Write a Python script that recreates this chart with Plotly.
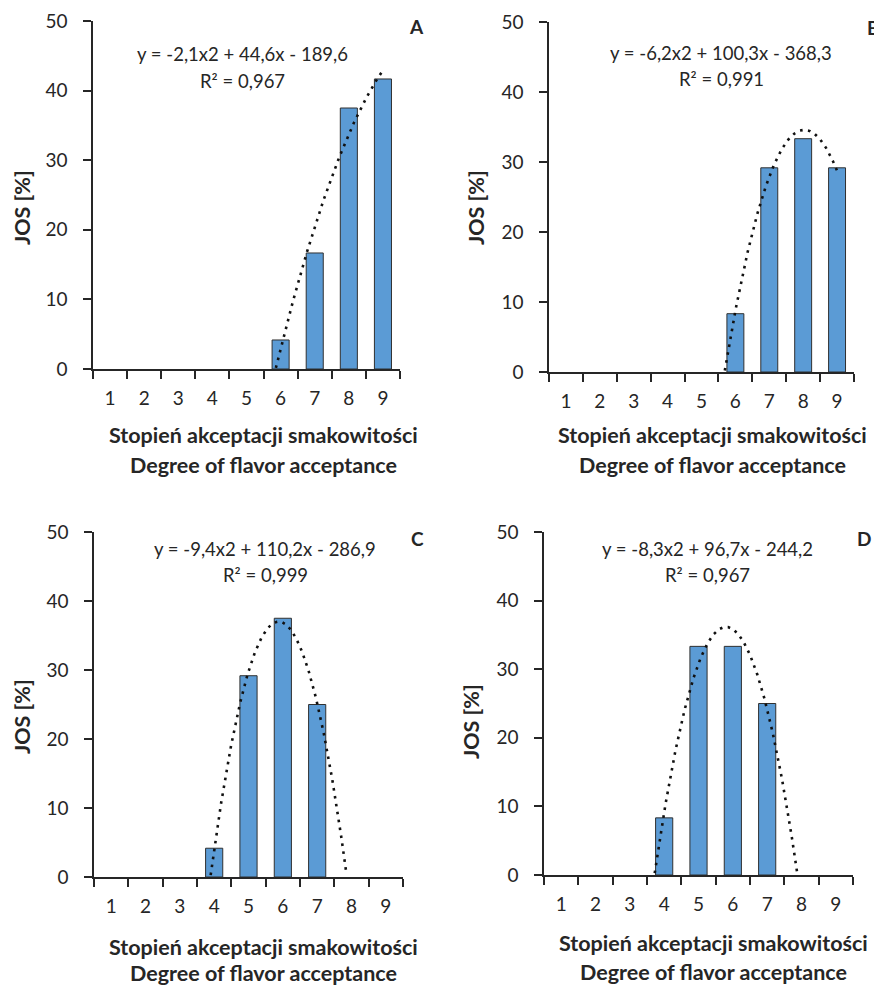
import numpy as np
import plotly.graph_objects as go

# ---------------- data ----------------
categories = [1, 2, 3, 4, 5, 6, 7, 8, 9]
jos_a = [0, 0, 0, 0, 0, 4.17, 16.67, 37.5, 41.67]
jos_b = [0, 0, 0, 0, 0, 8.33, 29.17, 33.33, 29.17]
jos_c = [0, 0, 0, 4.17, 29.17, 37.5, 25.0, 0, 0]
jos_d = [0, 0, 0, 8.33, 33.33, 33.33, 25.0, 0, 0]
panel_labels = ["A", "B", "C", "D"]
equations = ["y = -2,1x2 + 44,6x - 189,6",
             "y = -6,2x2 + 100,3x - 368,3",
             "y = -9,4x2 + 110,2x - 286,9",
             "y = -8,3x2 + 96,7x - 244,2"]
r2_labels = ["R² = 0,967", "R² = 0,991", "R² = 0,999", "R² = 0,967"]
y_ticks = [0, 10, 20, 30, 40, 50]
x_title_pl = "Stopień akceptacji smakowitości"
x_title_en = "Degree of flavor acceptance"
y_title = "JOS [%]"

series = [jos_a, jos_b, jos_c, jos_d]

# ---------------- layout helpers ----------------
W, H = 882, 985
OFF = 8  # page body margin of the browser
FONT = "Lato"
AX = "#262626"
TXT = "#262626"
BAR = "#5B9BD5"


def px(x):
    return (x - OFF) / W


def py(y):
    return 1 - (y - OFF) / H


# pixel geometry of each panel (page pixels)
panels = [
    dict(box=(93, 400, 21, 369), eq=(242, 54, 81), letter=(416, 27),
         xt=(263, 435, 465), yt=(22, 208)),
    dict(box=(549, 854, 22, 372), eq=(721, 53, 79), letter=(873, 28),
         xt=(712, 435, 465), yt=(476, 208)),
    dict(box=(94, 403, 532, 877), eq=(265, 549, 575), letter=(417, 538),
         xt=(263, 947, 973), yt=(22, 717)),
    dict(box=(544, 853, 532, 875), eq=(707, 549, 575), letter=(864, 538),
         xt=(713, 943, 972), yt=(471, 722)),
]

fig = go.Figure()
annotations = []

for i, (vals, p) in enumerate(zip(series, panels)):
    n = i + 1
    xa = "x" if n == 1 else f"x{n}"
    ya = "y" if n == 1 else f"y{n}"

    fig.add_trace(go.Bar(
        x=categories, y=[v if v > 0 else None for v in vals],
        xaxis=xa, yaxis=ya, width=0.5,
        marker=dict(color=BAR, line=dict(color="#303030", width=1)),
        showlegend=False, hoverinfo="skip"))

    # polynomial (2nd order) trendline fitted to the rated categories
    xs_fit = np.array([c for c, v in zip(categories, vals) if v > 0], float)
    ys_fit = np.array([v for v in vals if v > 0], float)
    coef = np.polyfit(xs_fit, ys_fit, 2)
    xs = np.linspace(categories[0], categories[-1], 600)
    ys = np.polyval(coef, xs)
    ys = np.where(ys >= 0, ys, np.nan)
    fig.add_trace(go.Scatter(
        x=xs, y=ys, xaxis=xa, yaxis=ya, mode="lines",
        line=dict(color="#111111", width=2.6, dash="2.6px,5.4px"),
        showlegend=False, hoverinfo="skip", connectgaps=False))

    x0, x1, yt, yb = p["box"]
    xkey = "xaxis" if n == 1 else f"xaxis{n}"
    ykey = "yaxis" if n == 1 else f"yaxis{n}"
    fig.layout[xkey] = dict(
        domain=[px(x0), px(x1)], anchor=ya, range=[0.5, 9.5],
        tickmode="array", tickvals=categories,
        ticktext=[str(c) for c in categories], ticks="",
        showline=True, linecolor=AX, linewidth=1.5, showgrid=False,
        zeroline=False, tickfont=dict(family=FONT, size=19, color=TXT),
        ticklabelstandoff=11, automargin=False,
        minor=dict(tickmode="linear", tick0=0.5, dtick=1, ticks="outside",
                   ticklen=8, tickwidth=1.5, tickcolor=AX, showgrid=False),
        fixedrange=True)
    fig.layout[ykey] = dict(
        domain=[py(yb), py(yt)], anchor=xa, range=[0, 50],
        tickmode="array", tickvals=y_ticks, ticks="outside", ticklen=8,
        tickwidth=1.5, tickcolor=AX, showline=True, linecolor=AX,
        linewidth=1.5, showgrid=False, zeroline=False, automargin=False,
        tickfont=dict(family=FONT, size=19, color=TXT),
        ticklabelstandoff=12, fixedrange=True)

    ex, ey1, ey2 = p["eq"]
    annotations.append(dict(x=px(ex), y=py(ey1), xref="paper", yref="paper",
                            text=equations[i], showarrow=False,
                            xanchor="center", yanchor="middle",
                            font=dict(family=FONT, size=18.5, color=TXT)))
    annotations.append(dict(x=px(ex), y=py(ey2), xref="paper", yref="paper",
                            text=r2_labels[i], showarrow=False,
                            xanchor="center", yanchor="middle",
                            font=dict(family=FONT, size=18.5, color=TXT)))
    lx, ly = p["letter"]
    annotations.append(dict(x=px(lx), y=py(ly), xref="paper", yref="paper",
                            text=f"<b>{panel_labels[i]}</b>", showarrow=False,
                            xanchor="center", yanchor="middle",
                            font=dict(family=FONT, size=19, color=TXT)))
    tx, t1, t2 = p["xt"]
    annotations.append(dict(x=px(tx), y=py(t1), xref="paper", yref="paper",
                            text=f"<b>{x_title_pl}</b>", showarrow=False,
                            xanchor="center", yanchor="middle",
                            font=dict(family=FONT, size=21.5, color=TXT)))
    annotations.append(dict(x=px(tx), y=py(t2), xref="paper", yref="paper",
                            text=f"<b>{x_title_en}</b>", showarrow=False,
                            xanchor="center", yanchor="middle",
                            font=dict(family=FONT, size=21.5, color=TXT)))
    yx, yy = p["yt"]
    annotations.append(dict(x=px(yx), y=py(yy), xref="paper", yref="paper",
                            text=f"<b>{y_title}</b>", showarrow=False,
                            textangle=-90, xanchor="center", yanchor="middle",
                            font=dict(family=FONT, size=21.5, color=TXT)))

fig.update_layout(
    width=W, height=H, margin=dict(l=0, r=0, t=0, b=0, autoexpand=False),
    paper_bgcolor="white", plot_bgcolor="white",
    annotations=annotations, bargap=0.5, showlegend=False)

fig.write_html("out.html", config={"displayModeBar": False})
